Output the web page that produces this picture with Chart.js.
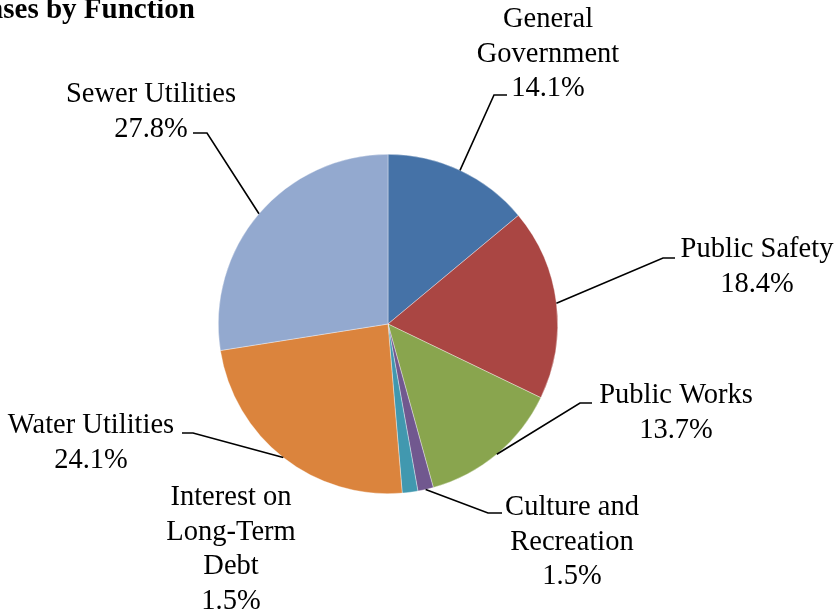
<!DOCTYPE html>
<html>
<head>
<meta charset="utf-8">
<script src="https://cdn.jsdelivr.net/npm/chart.js@4"></script>
<style>
  html, body { margin: 0; padding: 0; background: #fff; }
  #wrap { width: 837px; height: 610px; }
</style>
</head>
<body>
<div id="wrap"><canvas id="pie" width="837" height="610"></canvas></div>
<script>
const titleText = "Expenses by Function";
const categories = ["General Government", "Public Safety", "Public Works", "Culture and Recreation",
  "Interest on Long-Term Debt", "Water Utilities", "Sewer Utilities"];
const percents = [14.1, 18.4, 13.7, 1.5, 1.5, 24.1, 27.8];
const colors = ["#4572A7", "#AA4643", "#89A54E", "#71588F", "#4198AF", "#DB843D", "#93A9CF"];

// how each label wraps, and where it sits (center x, first baseline)
const labelLines = [
  ["General", "Government"],
  ["Public Safety"],
  ["Public Works"],
  ["Culture and", "Recreation"],
  ["Interest on", "Long-Term", "Debt"],
  ["Water Utilities"],
  ["Sewer Utilities"]
];
const labelPos = [
  { x: 548, y: 27 }, { x: 757, y: 257 }, { x: 676, y: 403 }, { x: 572, y: 515 },
  { x: 231, y: 505 }, { x: 91, y: 433 }, { x: 151, y: 102 }
];
// elbow of the leader line then end of short horizontal piece (null = no leader)
const leaders = [
  [494, 95, 507], [663, 258, 675], [580, 403, 592], [488, 513, 502],
  null, [193, 433, 182], [207, 133, 193]
];

const serif = "'Liberation Serif', 'Times New Roman', serif";
const lineH = 34.5;

const labelPlugin = {
  id: "pieLabels",
  afterDraw(chart) {
    const ctx = chart.ctx;
    const arcs = chart.getDatasetMeta(0).data;
    ctx.save();

    // title, cut at the left edge like the original
    ctx.font = "bold 29px " + serif;
    ctx.fillStyle = "#000";
    ctx.textAlign = "right";
    ctx.textBaseline = "alphabetic";
    ctx.fillText(titleText, 195, 18);

    ctx.strokeStyle = "#000";
    ctx.lineWidth = 1.6;
    arcs.forEach((arc, i) => {
      const ld = leaders[i];
      if (ld) {
        const p = arc.getProps(["x", "y", "startAngle", "endAngle", "outerRadius"], true);
        const mid = (p.startAngle + p.endAngle) / 2;
        const sx = p.x + Math.cos(mid) * p.outerRadius;
        const sy = p.y + Math.sin(mid) * p.outerRadius;
        ctx.beginPath();
        ctx.moveTo(sx, sy);
        ctx.lineTo(ld[0], ld[1]);
        ctx.lineTo(ld[2], ld[1]);
        ctx.stroke();
      }
      ctx.font = "28.5px " + serif;
      ctx.textAlign = "center";
      const lines = labelLines[i].concat([percents[i].toFixed(1) + "%"]);
      lines.forEach((t, k) => {
        ctx.fillText(t, labelPos[i].x, labelPos[i].y + k * lineH);
      });
    });
    ctx.restore();
  }
};

new Chart(document.getElementById("pie"), {
  type: "pie",
  data: {
    labels: categories,
    datasets: [{
      data: percents,
      backgroundColor: colors,
      borderColor: "rgba(255,255,255,0.6)",
      borderWidth: 0.6
    }]
  },
  options: {
    responsive: false,
    animation: false,
    layout: { padding: { left: 218, right: 279, top: 154, bottom: 116 } },
    plugins: {
      legend: { display: false },
      tooltip: { enabled: false }
    }
  },
  plugins: [labelPlugin]
});
</script>
</body>
</html>
